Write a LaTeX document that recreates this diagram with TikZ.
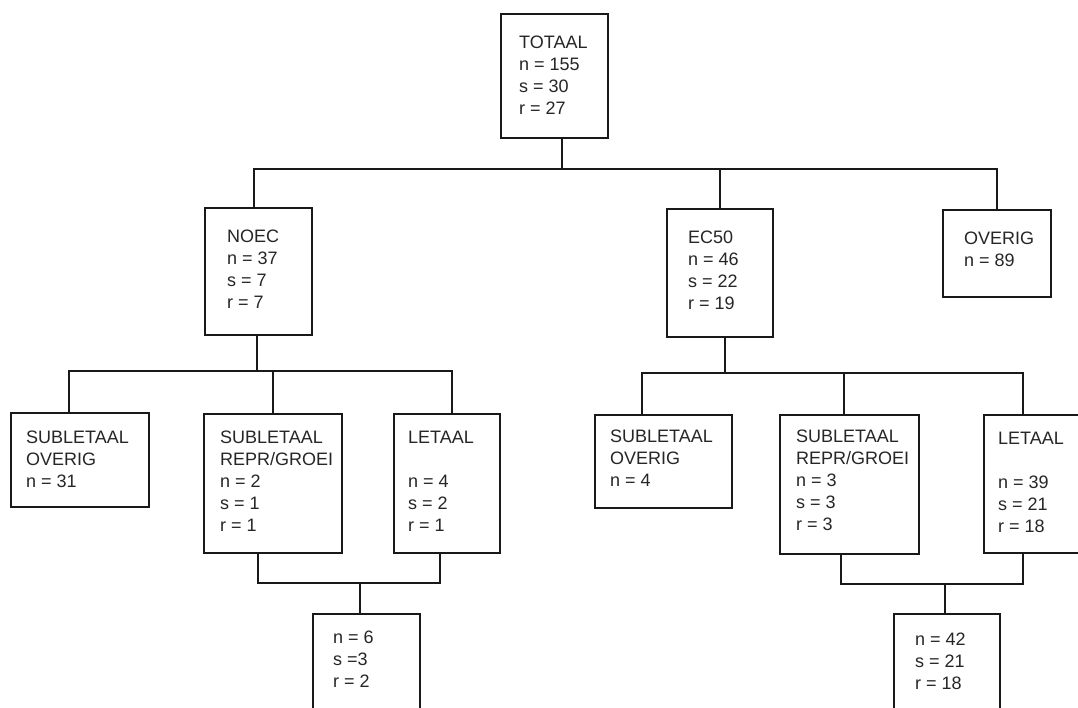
\documentclass[tikz,border=0pt]{standalone}
\usepackage{fontspec}
\setmainfont{Liberation Sans}
\begin{document}
\begin{tikzpicture}[x=1pt,y=-1pt,
  box/.style={draw=black!90, line width=2.2pt, inner sep=0pt, anchor=north west, fill=white},
  txt/.style={font=\fontsize{18}{22}\selectfont, align=left, inner sep=0pt, anchor=north west, text=black!85},
  conn/.style={draw=black!90, line width=2.2pt, line cap=rect, line join=miter}]
\useasboundingbox (0,0) rectangle (1078,707);
\fill[white] (0,0) rectangle (1078,707);
\clip (0,0) rectangle (1078,707);
\newcommand{\fs}{\rule{0pt}{13pt}}
% boxes
\node[box, minimum width=107pt, minimum height=124pt] (tot) at (500,13) {};
\node[box, minimum width=107pt, minimum height=127pt] (noec) at (204,207) {};
\node[box, minimum width=106pt, minimum height=128pt] (ec) at (666,208) {};
\node[box, minimum width=108pt, minimum height=87pt] (ov) at (942,209) {};
\node[box, minimum width=138pt, minimum height=94pt] (so1) at (10,412) {};
\node[box, minimum width=138pt, minimum height=139pt] (rg1) at (203,413) {};
\node[box, minimum width=106pt, minimum height=139pt] (let1) at (393,413) {};
\node[box, minimum width=107pt, minimum height=120pt] (res1) at (312,613) {};
\node[box, minimum width=137pt, minimum height=93pt] (so2) at (594,414) {};
\node[box, minimum width=139pt, minimum height=139pt] (rg2) at (779,414) {};
\node[box, minimum width=106pt, minimum height=138pt] (let2) at (983,414) {};
\node[box, minimum width=106pt, minimum height=120pt] (res2) at (893,613) {};
% texts
\node[txt] (totT) at (519,35) {\fs TOTAAL\\n = 155\\s = 30\\r = 27};
\node[txt] (noecT) at (227,229) {\fs NOEC\\n = 37\\s = 7\\r = 7};
\node[txt] (ecT) at (688,230) {\fs EC50\\n = 46\\s = 22\\r = 19};
\node[txt] (ovT) at (964,231) {\fs OVERIG\\n = 89};
\node[txt] (so1T) at (26,430) {\fs SUBLETAAL\\OVERIG\\n = 31};
\node[txt] (rg1T) at (220,430) {\fs SUBLETAAL\\REPR/GROEI\\n = 2\\s = 1\\r = 1};
\node[txt] (let1T) at (408,430) {\fs LETAAL\\\mbox{}\\n = 4\\s = 2\\r = 1};
\node[txt] (res1T) at (333,630) {\fs n = 6\\s =3\\r = 2};
\node[txt] (so2T) at (610,429) {\fs SUBLETAAL\\OVERIG\\n = 4};
\node[txt] (rg2T) at (796,429) {\fs SUBLETAAL\\REPR/GROEI\\n = 3\\s = 3\\r = 3};
\node[txt] (let2T) at (998,431) {\fs LETAAL\\\mbox{}\\n = 39\\s = 21\\r = 18};
\node[txt] (res2T) at (915,632) {\fs n = 42\\s = 21\\r = 18};
% junction coordinates
\coordinate (b1T) at (562,169);
\coordinate (b1L) at (254,169);
\coordinate (b1E) at (720,169);
\coordinate (b1R) at (997,169);
\coordinate (b2T) at (257,371);
\coordinate (b2L) at (69,371);
\coordinate (b2M) at (273,371);
\coordinate (b2R) at (452,371);
\coordinate (b3L) at (258,583);
\coordinate (b3R) at (440,583);
\coordinate (b3T) at (360,583);
\coordinate (c2T) at (725,373);
\coordinate (c2L) at (642,373);
\coordinate (c2M) at (844,373);
\coordinate (c2R) at (1023,373);
\coordinate (c3L) at (841,584);
\coordinate (c3R) at (1023,584);
\coordinate (c3T) at (945,584);
% connectors
\draw[conn] (tot.south -| b1T) -- (b1T);
\draw[conn] (noec.north -| b1L) -- (b1L) -- (b1R) -- (ov.north -| b1R);
\draw[conn] (b1E) -- (ec.north -| b1E);
\draw[conn] (noec.south -| b2T) -- (b2T);
\draw[conn] (so1.north -| b2L) -- (b2L) -- (b2R) -- (let1.north -| b2R);
\draw[conn] (b2M) -- (rg1.north -| b2M);
\draw[conn] (rg1.south -| b3L) -- (b3L) -- (b3R) -- (let1.south -| b3R);
\draw[conn] (b3T) -- (res1.north -| b3T);
\draw[conn] (ec.south -| c2T) -- (c2T);
\draw[conn] (so2.north -| c2L) -- (c2L) -- (c2R) -- (let2.north -| c2R);
\draw[conn] (c2M) -- (rg2.north -| c2M);
\draw[conn] (rg2.south -| c3L) -- (c3L) -- (c3R) -- (let2.south -| c3R);
\draw[conn] (c3T) -- (res2.north -| c3T);
\end{tikzpicture}
\end{document}
